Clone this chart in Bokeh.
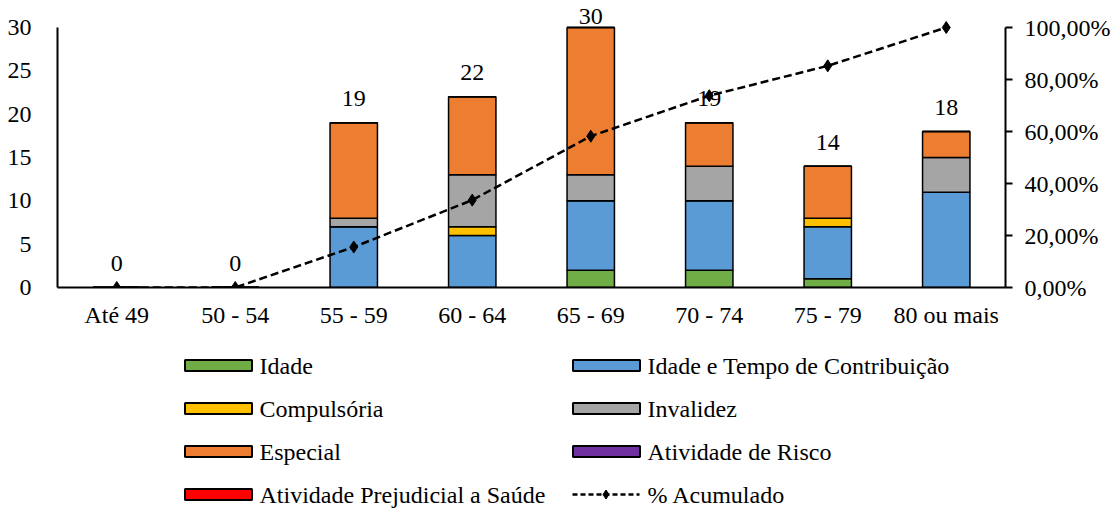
from bokeh.plotting import figure
from bokeh.models import (Range1d, FactorRange, LinearAxis, FixedTicker, ColumnDataSource, LabelSet)
from bokeh.layouts import column
from bokeh.embed import file_html
from bokeh.resources import INLINE
from bokeh.core.properties import value

# ---------------- data ----------------
categories = ["Até 49", "50 - 54", "55 - 59", "60 - 64", "65 - 69", "70 - 74", "75 - 79", "80 ou mais"]
series_names = ["Idade", "Idade e Tempo de Contribuição", "Compulsória", "Invalidez",
                "Especial", "Atividade de Risco", "Atividade Prejudicial a Saúde"]
idade = [0, 0, 0, 0, 2, 2, 1, 0]
idade_tempo = [0, 0, 7, 6, 8, 8, 6, 11]
compulsoria = [0, 0, 0, 1, 0, 0, 1, 0]
invalidez = [0, 0, 1, 6, 3, 4, 0, 4]
especial = [0, 0, 11, 9, 17, 5, 6, 3]
atividade_risco = [0, 0, 0, 0, 0, 0, 0, 0]
atividade_prejudicial = [0, 0, 0, 0, 0, 0, 0, 0]
totals = [0, 0, 19, 22, 30, 19, 14, 18]
pct_acumulado = [0.0, 0.0, 15.57, 33.61, 58.20, 73.77, 85.25, 100.0]
line_name = "% Acumulado"
left_ticks = [0, 5, 10, 15, 20, 25, 30]
right_ticks = [0, 20, 40, 60, 80, 100]
right_tick_labels = ["0,00%", "20,00%", "40,00%", "60,00%", "80,00%", "100,00%"]
colors = ["#70AD47", "#5B9BD5", "#FFC000", "#A5A5A5", "#ED7D31", "#7030A0", "#FF0000"]

FONT = "'Liberation Serif', 'Times New Roman', serif"
FS = "24px"

label_offsets = [24, 24, 24, 24, 11, 24, 24, 24]

keys = ["s0", "s1", "s2", "s3", "s4", "s5", "s6"]
data = dict(cat=categories, total=[str(t) for t in totals], totv=totals, pct=pct_acumulado,
            yoff=label_offsets)
for k, arr in zip(keys, [idade, idade_tempo, compulsoria, invalidez, especial,
                         atividade_risco, atividade_prejudicial]):
    data[k] = arr
src = ColumnDataSource(data)

W = 1118
H1 = 338
H2 = 170
FL, FR = 57, 1005          # frame left/right in page pixels
F_TOP, AX_TOP, AX_BOT = 3, 27, 287   # frame top, axis-top (30 / 100%) and baseline in page px
scale = (AX_BOT - F_TOP) / (AX_BOT - AX_TOP)   # headroom so labels/markers are not clipped

p = figure(width=W, height=H1, x_range=FactorRange(*categories),
           y_range=Range1d(0, 30 * scale),
           output_backend="svg", toolbar_location=None,
           min_border_left=FL, min_border_right=W - FR, min_border_top=F_TOP,
           min_border_bottom=H1 - AX_BOT)
p.x_range.range_padding = 0
p.outline_line_color = None
p.xgrid.visible = False
p.ygrid.visible = False
p.background_fill_color = "white"
p.border_fill_color = "white"

p.vbar_stack(keys, x="cat", width=0.4, source=src, fill_color=colors,
             line_color="black", line_width=1.5)

p.extra_y_ranges = {"pct": Range1d(0, 100 * scale)}
p.line(x="cat", y="pct", source=src, y_range_name="pct", line_color="black",
       line_width=2.5, line_dash="8 4")
p.scatter(x="cat", y="pct", source=src, y_range_name="pct", marker="diamond",
          size=12, fill_color="black", line_color="black")

labels = LabelSet(x="cat", y="totv", text="total", source=src, y_offset="yoff",
                  text_align="center", text_baseline="middle",
                  text_font=value(FONT), text_font_size=FS, text_color="black")
p.add_layout(labels)

# axes
for ax in [p.xaxis[0], p.yaxis[0]]:
    ax.axis_line_color = "black"
    ax.axis_line_width = 2
    ax.major_tick_line_color = None
    ax.minor_tick_line_color = None
    ax.major_label_text_font = FONT
    ax.major_label_text_font_size = FS
    ax.major_label_text_color = "black"
p.xaxis[0].major_label_standoff = 8
p.yaxis[0].ticker = FixedTicker(ticks=left_ticks)
p.yaxis[0].bounds = (0, 30)
p.yaxis[0].major_label_standoff = 20

rax = LinearAxis(y_range_name="pct", ticker=FixedTicker(ticks=right_ticks), bounds=(0, 100),
                 major_label_overrides={t: l for t, l in zip(right_ticks, right_tick_labels)})
rax.axis_line_color = "black"
rax.axis_line_width = 2
rax.major_tick_line_color = "black"
rax.major_tick_line_width = 2
rax.major_tick_in = 0
rax.major_tick_out = 7
rax.minor_tick_line_color = None
rax.major_label_standoff = 12
rax.major_label_text_font = FONT
rax.major_label_text_font_size = FS
rax.major_label_text_color = "black"
p.add_layout(rax, "right")

# ---------------- legend figure ----------------
q = figure(width=W, height=H2, x_range=Range1d(FL, FR), y_range=Range1d(0, H2),
           output_backend="svg", toolbar_location=None, x_axis_type=None, y_axis_type=None,
           min_border_left=FL, min_border_right=W - FR, min_border_top=0, min_border_bottom=0)
q.outline_line_color = None
q.xgrid.visible = False
q.ygrid.visible = False
q.border_fill_color = "white"

col_x = [184, 572]
row_y = [H2 - 27, H2 - 70, H2 - 113, H2 - 156]
items = []
for i, name in enumerate(series_names):
    c = i % 2
    r = i // 2
    items.append((col_x[c], row_y[r], name, colors[i]))
sw_x = [it[0] + 34 for it in items]
sw_y = [it[1] for it in items]
q.rect(x=sw_x, y=sw_y, width=67, height=11, fill_color=[it[3] for it in items],
       line_color="black", line_width=2)
q.text(x=[it[0] + 75 for it in items], y=sw_y, text=[it[2] for it in items],
       text_font=value(FONT), text_font_size=FS, text_baseline="middle", text_align="left",
       text_color="black")
# line legend
lx0 = col_x[1]
ly = row_y[3]
q.line(x=[lx0, lx0 + 67], y=[ly, ly], line_color="black", line_width=2.5, line_dash="5 3")
q.scatter(x=[lx0 + 33.5], y=[ly], marker="diamond", size=9, fill_color="black", line_color="black")
q.text(x=[lx0 + 75], y=[ly], text=[line_name], text_font=value(FONT), text_font_size=FS,
       text_baseline="middle", text_align="left", text_color="black")

layout = column(p, q, spacing=0)
open("out.html", "w").write(file_html(layout, INLINE))
